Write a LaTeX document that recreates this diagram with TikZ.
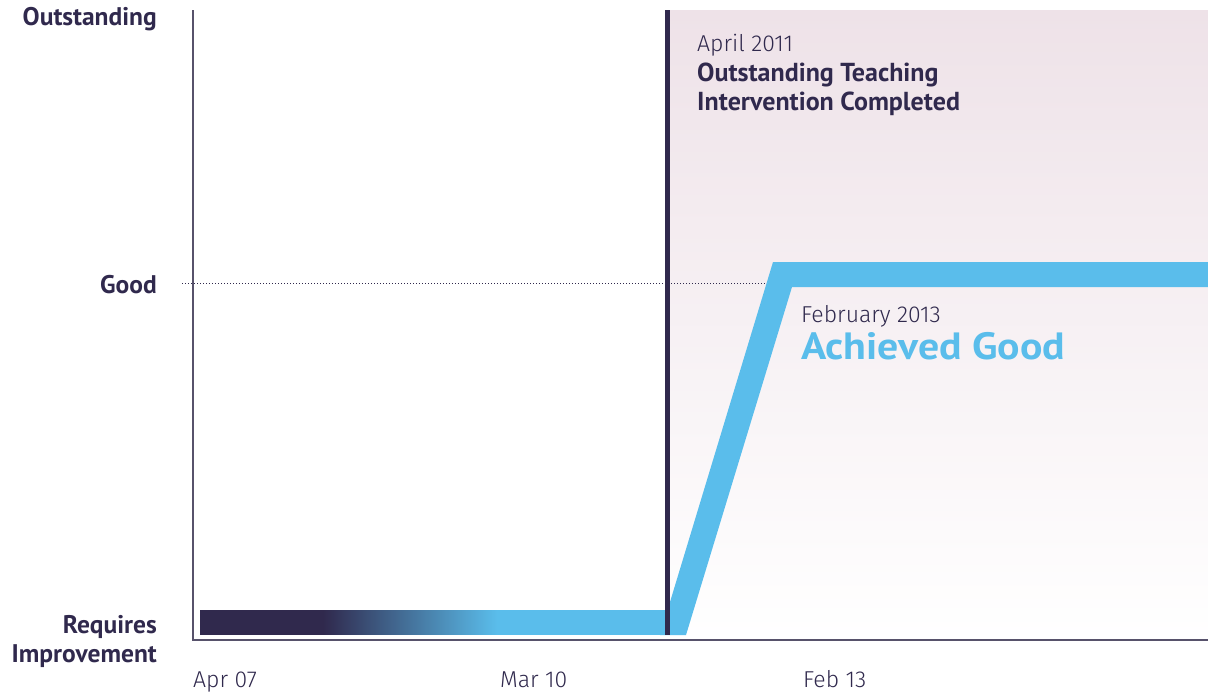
\documentclass[tikz,border=0pt]{standalone}
\usepackage{fontspec}
\setmainfont{PT Sans}
\newfontfamily\lightf{Fira Sans Light}
\usetikzlibrary{calc}
\definecolor{navy}{HTML}{30294D}
\definecolor{skyb}{HTML}{5ABDEB}
\definecolor{axisc}{HTML}{57526B}
\definecolor{pinkt}{HTML}{EEE2E8}
\tikzset{
  lvl/.style={font=\fontsize{25.5}{25.5}\selectfont\bfseries, text=navy, anchor=base east, inner sep=0pt},
  datel/.style={font=\lightf\fontsize{23}{23}\selectfont, text=navy, anchor=base west, inner sep=0pt},
  boldl/.style={font=\fontsize{26}{26}\selectfont\bfseries, text=navy, anchor=base west, inner sep=0pt},
  axisl/.style={draw=axisc, line width=1.3pt},
}
\begin{document}
\begin{tikzpicture}[x=1pt,y=-1pt]
\useasboundingbox (0,0) rectangle (1208,696);
% shaded region after intervention
\shade[top color=pinkt, bottom color=white] (670,10) rectangle (1208,640);
% dotted Good level
\coordinate (gl) at (182,283);
\coordinate (gr) at (770,283);
\draw[navy, line width=1pt, dash pattern=on 1pt off 2pt] (gl) -- (gr);
% gradient bar
\fill[navy] (200,610) rectangle (323,635);
\foreach \i in {0,...,174}{
  \pgfmathsetmacro\p{\i/174*100}
  \fill[skyb!\p!navy] (322.5+\i,610) rectangle (323.8+\i,635);
}
\fill[skyb] (497,610) rectangle (667,635);
% rising blue band
\fill[skyb] (660,635) -- (686,635) -- (792,287) -- (1208,287) -- (1208,262) -- (773,262) -- cycle;
% intervention line
\coordinate (it) at (667.5,10);
\coordinate (ib) at (667.5,635);
\draw[navy, line width=5pt] (it) -- (ib);
% axes
\coordinate (ao) at (193,640);
\coordinate (ay) at (193,10);
\coordinate (ax) at (1208,640);
\draw[axisl] (ay) -- (ao) -- (ax);
% level labels
\node[lvl] (out) at (157,25) {Outstanding};
\node[lvl] (good) at (157,293) {Good};
\node[lvl] (req) at (157,633) {Requires};
\node[lvl] (imp) at (157,662) {Improvement};
% date axis labels
\node[datel] (d1) at (193,687) {Apr 07};
\node[datel] (d2) at (500,687) {Mar 10};
\node[datel] (d3) at (803,687) {Feb 13};
% annotations
\node[datel] (apr) at (697,51) {April 2011};
\node[boldl] (ot) at (697,81) {Outstanding Teaching};
\node[boldl] (ic) at (697,110) {Intervention Completed};
\node[datel] (feb) at (801,322) {February 2013};
\node[font=\fontsize{38}{38}\selectfont\bfseries, text=skyb, anchor=base west, inner sep=0pt] (ach) at (801,359) {\scalebox{1.1}[1]{Achieved Good}};
\end{tikzpicture}
\end{document}
